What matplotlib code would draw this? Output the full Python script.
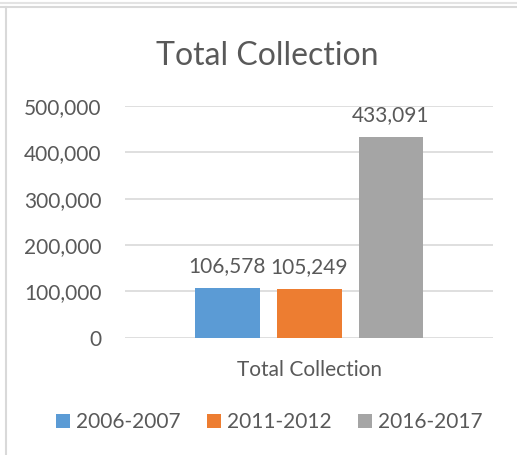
import matplotlib.pyplot as plt
from matplotlib.lines import Line2D
from matplotlib.ticker import FuncFormatter

categories = ["Total Collection"]
periods = ["2006-2007", "2011-2012", "2016-2017"]
values = [106578, 105249, 433091]
colors = ["#5B9BD5", "#ED7D31", "#A5A5A5"]
yticks = [0, 100000, 200000, 300000, 400000, 500000]

plt.rcParams["font.family"] = ["Lato", "DejaVu Sans"]
txt = "#595959"

fig = plt.figure(figsize=(5.17, 4.55), dpi=100)
ax = fig.add_axes([0.2418, 0.2578, 0.7118, 0.5092])

width = 0.1766
step = 0.2228
for i, (p, v, c) in enumerate(zip(periods, values, colors)):
    bars = ax.bar([(i - 1) * step], [v], width=width, color=c, label=p, zorder=3)
    ax.bar_label(bars, labels=[f"{v:,}"], padding=8.5, fontsize=15, color=txt)

ax.set_xlim(-0.5, 0.5)
ax.set_ylim(0, 500000)
ax.set_yticks(yticks)
ax.yaxis.set_major_formatter(FuncFormatter(lambda y, _: f"{int(y):,}"))
ax.set_xticks([0])
ax.set_xticklabels(categories)
ax.tick_params(axis="y", length=0, pad=17, labelsize=15, labelcolor=txt)
ax.tick_params(axis="x", length=0, pad=16, labelsize=15, labelcolor=txt)
ax.grid(axis="y", color="#D9D9D9", linewidth=1.2, zorder=0)
for s in ax.spines.values():
    s.set_visible(False)

fig.text(0.516, 0.877, "Total Collection", fontsize=23, color=txt,
         ha="center", va="center")

fig.legend(loc="center", bbox_to_anchor=(0.521, 0.0725), ncol=3, frameon=False,
           fontsize=15, labelcolor=txt, handlelength=0.67, handleheight=0.67,
           handletextpad=0.3, columnspacing=1.25)

# chart border
fig.add_artist(Line2D([0, 1], [1 - 3 / 455, 1 - 3 / 455], transform=fig.transFigure,
                      color="#E3E3E3", linewidth=1.5))
fig.add_artist(Line2D([0, 1], [1 - 7 / 455, 1 - 7 / 455], transform=fig.transFigure,
                      color="#D9D9D9", linewidth=1.5))
fig.add_artist(Line2D([6 / 517, 6 / 517], [0, 1 - 7 / 455], transform=fig.transFigure,
                      color="#D9D9D9", linewidth=1.5))

fig.savefig("out.png", dpi=100)
